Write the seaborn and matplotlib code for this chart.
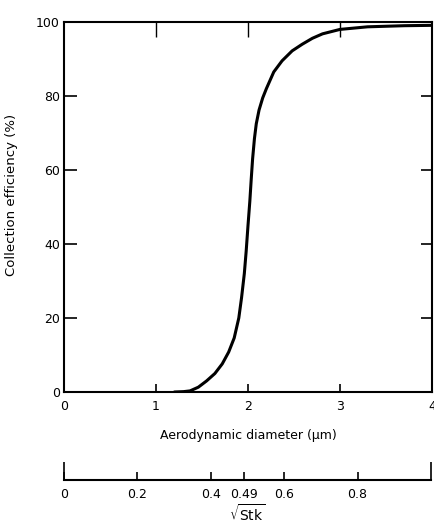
import matplotlib
matplotlib.use("Agg")
import matplotlib.pyplot as plt
import seaborn as sns
import pandas as pd

# ---- data ----
diameter = [1.20, 1.30, 1.37, 1.46, 1.55, 1.64, 1.72, 1.79, 1.85, 1.90, 1.93, 1.96, 1.98,
            2.00, 2.02, 2.035, 2.05, 2.07, 2.09, 2.12, 2.16, 2.20, 2.28, 2.37, 2.48, 2.59,
            2.70, 2.81, 3.00, 3.30, 3.70, 4.00]
efficiency = [0.0, 0.1, 0.3, 1.3, 3.0, 5.0, 7.6, 10.8, 14.6, 20.0, 25.5, 32.0, 38.0,
              45.0, 51.6, 57.5, 63.0, 68.5, 72.5, 76.2, 79.5, 82.0, 86.5, 89.5, 92.2, 94.0,
              95.6, 96.8, 98.0, 98.7, 99.0, 99.1]

x_ticks = [0, 1, 2, 3, 4]
y_ticks = [0, 20, 40, 60, 80, 100]
stk_ticks = [0, 0.2, 0.4, 0.49, 0.6, 0.8]
stk_labels = ["0", "0.2", "0.4", "0.49", "0.6", "0.8"]

df = pd.DataFrame({"Aerodynamic diameter (μm)": diameter,
                   "Collection efficiency (%)": efficiency})

sns.set_theme(style="white")
plt.rcParams["font.family"] = ["DejaVu Sans"]

W, H = 435, 524
fig = plt.figure(figsize=(W / 100, H / 100), dpi=100)

x0, x1 = 64, 432
y_top, y_bot = 22, 392
ax = fig.add_axes([x0 / W, 1 - y_bot / H, (x1 - x0) / W, (y_bot - y_top) / H])

sns.lineplot(data=df, x="Aerodynamic diameter (μm)", y="Collection efficiency (%)",
             ax=ax, color="black", linewidth=2.2)

ax.set_xlim(0, 4)
ax.set_ylim(0, 100)
ax.set_xticks(x_ticks)
ax.set_xticklabels([str(t) for t in x_ticks])
ax.set_yticks(y_ticks)
ax.set_yticklabels([str(t) for t in y_ticks])
for s in ax.spines.values():
    s.set_visible(True)
    s.set_color("black")
    s.set_linewidth(1.5)
ax.tick_params(axis="x", direction="in", length=6, width=1.2, color="black",
               labelsize=9, pad=6, bottom=True, labelcolor="black")
ax.tick_params(axis="y", direction="in", length=9, width=1.2, color="black",
               labelsize=9, pad=3, left=True, labelcolor="black")
ax.set_xlabel("Aerodynamic diameter (μm)", fontsize=9, labelpad=11, color="black")
ax.set_ylabel("Collection efficiency (%)", fontsize=9.5, color="black")
ax.yaxis.set_label_coords(-0.125, 0.532)

top = ax.secondary_xaxis("top")
top.set_xticks([1, 2, 3])
top.tick_params(direction="in", length=11, width=1.0, color="black", labeltop=False)
top.spines["top"].set_visible(False)

right = ax.secondary_yaxis("right")
right.set_yticks([20, 40, 60, 80])
right.tick_params(direction="in", length=8, width=1.2, color="black", labelright=False)
right.spines["right"].set_visible(False)

# ---- sqrt(Stk) scale ----
s_x1 = 431
s_y = 480
ax2 = fig.add_axes([x0 / W, 1 - s_y / H, (s_x1 - x0) / W, 0.001])
ax2.set_xlim(0, 1)
ax2.set_ylim(0, 1)
ax2.set_yticks([])
for k in ["top", "left", "right"]:
    ax2.spines[k].set_visible(False)
ax2.spines["bottom"].set_color("black")
ax2.spines["bottom"].set_linewidth(1.5)
ax2.set_facecolor("none")
ax2.xaxis.remove_overlapping_locs = False
ax2.set_xticks(stk_ticks)
ax2.set_xticklabels(stk_labels)
ax2.set_xticks([0, 1], minor=True)
ax2.tick_params(axis="x", which="major", direction="in", length=6, width=1.2,
                color="black", labelsize=9, pad=6, bottom=True, labelcolor="black")
ax2.tick_params(axis="x", which="minor", direction="in", length=13, width=1.2,
                color="black", bottom=True)
ax2.set_xlabel(r"$\sqrt{\mathrm{Stk}}$", fontsize=10, labelpad=1, color="black")

fig.savefig("out.png", dpi=100, facecolor="white")
